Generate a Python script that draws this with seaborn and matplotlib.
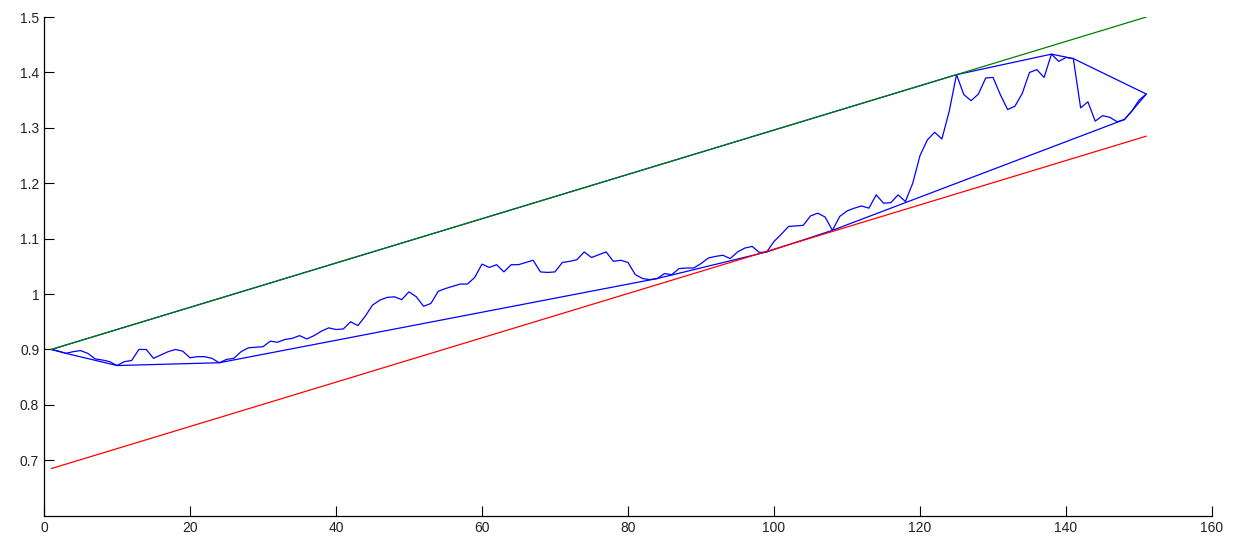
import numpy as np
import pandas as pd
import matplotlib
matplotlib.use('Agg')
import matplotlib.pyplot as plt
import seaborn as sns

# series, x = 1..151
days = list(range(1, 152))
values = [
    0.900, 0.897, 0.893, 0.896, 0.898, 0.893, 0.883, 0.881, 0.878, 0.871,
    0.878, 0.880, 0.900, 0.900, 0.884, 0.890, 0.896, 0.900, 0.897, 0.885,
    0.887, 0.887, 0.884, 0.876, 0.882, 0.884, 0.896, 0.903, 0.904, 0.905,
    0.915, 0.913, 0.918, 0.920, 0.925, 0.919, 0.925, 0.933, 0.939, 0.936,
    0.937, 0.950, 0.943, 0.960, 0.980, 0.989, 0.994, 0.995, 0.990, 1.004,
    0.995, 0.978, 0.983, 1.005, 1.010, 1.014, 1.018, 1.018, 1.030, 1.054,
    1.048, 1.053, 1.040, 1.053, 1.053, 1.057, 1.061, 1.040, 1.039, 1.040,
    1.057, 1.059, 1.062, 1.076, 1.066, 1.071, 1.076, 1.059, 1.061, 1.057,
    1.035, 1.028, 1.026, 1.028, 1.037, 1.035, 1.046, 1.047, 1.047, 1.055,
    1.065, 1.068, 1.070, 1.064, 1.076, 1.083, 1.086, 1.075, 1.076, 1.095,
    1.108, 1.122, 1.123, 1.124, 1.141, 1.146, 1.139, 1.115, 1.140, 1.150,
    1.155, 1.159, 1.155, 1.179, 1.164, 1.165, 1.179, 1.167, 1.200, 1.250,
    1.278, 1.292, 1.280, 1.330, 1.396, 1.360, 1.349, 1.361, 1.390, 1.391,
    1.360, 1.333, 1.339, 1.362, 1.400, 1.405, 1.391, 1.433, 1.420, 1.427,
    1.425, 1.336, 1.347, 1.312, 1.322, 1.319, 1.311, 1.315, 1.330, 1.350,
    1.361,
]

# parallel channel lines (end points)
line_x = [1, 151]
upper_y = [0.900, 1.500]
lower_y = [0.685, 1.285]

yticks = [0.7, 0.8, 0.9, 1.0, 1.1, 1.2, 1.3, 1.4, 1.5]
ytick_labels = ['0.7', '0.8', '0.9', '1', '1.1', '1.2', '1.3', '1.4', '1.5']
xticks = [0, 20, 40, 60, 80, 100, 120, 140, 160]


def convex_hull(px, py):
    pts = sorted(zip(px, py))

    def cross(o, a, b):
        return (a[0]-o[0])*(b[1]-o[1]) - (a[1]-o[1])*(b[0]-o[0])

    lower = []
    for p in pts:
        while len(lower) >= 2 and cross(lower[-2], lower[-1], p) <= 0:
            lower.pop()
        lower.append(p)
    upper = []
    for p in reversed(pts):
        while len(upper) >= 2 and cross(upper[-2], upper[-1], p) <= 0:
            upper.pop()
        upper.append(p)
    hull = lower[:-1] + upper
    return [h[0] for h in hull], [h[1] for h in hull]


sns.set_style('ticks')
plt.rcParams['font.family'] = ['Liberation Sans', 'DejaVu Sans']

fig = plt.figure(figsize=(12.36, 5.37), dpi=100)
ax = fig.add_axes([0.0356, 0.0397, 0.945, 0.9286])

df = pd.DataFrame({'x': days, 'y': values})
sns.lineplot(data=df, x='x', y='y', ax=ax, color='#0000ff', linewidth=0.9,
             estimator=None, sort=False)

hx, hy = convex_hull(days, values)
sns.lineplot(x=hx, y=hy, ax=ax, color='#0000ff', linewidth=0.9,
             estimator=None, sort=False)

sns.lineplot(x=line_x, y=upper_y, ax=ax, color='#008000', linewidth=0.9,
             estimator=None, sort=False)
sns.lineplot(x=line_x, y=lower_y, ax=ax, color='#ff0000', linewidth=0.9,
             estimator=None, sort=False)

ax.set_xlim(0, 160)
ax.set_ylim(0.6, 1.5)
ax.set_xticks(xticks)
ax.set_xticklabels([str(t) for t in xticks])
ax.set_yticks(yticks)
ax.set_yticklabels(ytick_labels)
ax.set_xlabel('')
ax.set_ylabel('')
ax.tick_params(direction='in', length=7, width=0.8, labelsize=10,
               colors='black', labelcolor='#222222')
for s in ['top', 'right']:
    ax.spines[s].set_visible(False)
for s in ['left', 'bottom']:
    ax.spines[s].set_color('black')
    ax.spines[s].set_linewidth(0.9)

fig.savefig('out.png', dpi=100)
